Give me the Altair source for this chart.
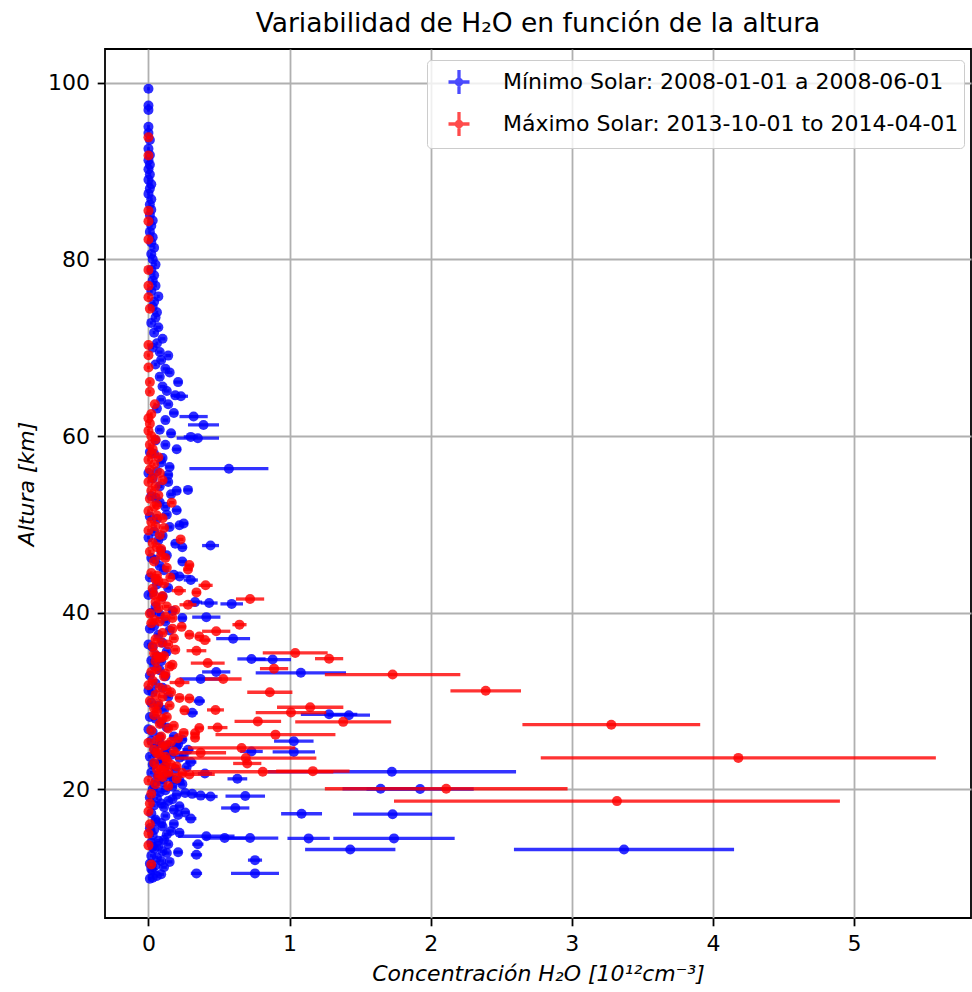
import altair as alt
import pandas as pd

# ---- Minimum solar activity series (2008-01-01 .. 2008-06-01) ----
blue_alt = [
    99.3, 97.4, 96.9, 95.0, 94.3, 93.5, 92.5, 91.8, 91.2, 90.7,
    90.2, 89.6, 89.0, 88.5, 88.0, 87.4, 86.8, 86.2, 85.6, 85.0,
    84.4, 83.8, 83.1, 82.5, 81.9, 81.3, 80.6, 80.0, 79.4, 78.8,
    78.2, 77.6, 77.0, 76.4, 75.8, 75.2, 74.6, 74.0, 73.4, 72.8,
    72.3, 71.7, 71.0, 70.5, 70.0, 69.5, 69.1, 68.6, 68.1, 67.6,
    67.2, 66.7, 66.1, 65.6, 65.1, 64.6, 64.5, 64.1, 63.6, 63.1,
    62.6, 62.2, 61.8, 61.25, 60.7, 60.3, 59.9, 59.75, 59.5, 59.0,
    58.5, 58.0, 57.5, 57.0, 56.5, 56.3, 56.0, 55.6, 55.2, 54.8,
    54.3, 53.9, 53.8, 53.4, 53.0, 52.5, 52.0, 51.6, 51.1, 50.6,
    50.1, 49.9, 49.7, 49.2, 48.7, 48.2, 47.8, 47.6, 47.4, 47.0,
    46.5, 46.0, 45.8, 45.3, 44.8, 44.3, 44.1, 43.7, 43.2, 42.8,
    42.3, 41.8, 41.2, 41.1, 41.0, 40.7, 40.2, 39.8, 39.5, 39.4,
    39.0, 38.5, 38.0, 37.5, 37.06, 36.6, 36.1, 35.6, 35.1, 34.77,
    34.7, 34.5, 34.0, 33.5, 33.3, 33.2, 32.8, 32.5, 32.0, 31.5,
    31.0, 30.5, 30.0, 29.5, 29.0, 28.67, 28.5, 28.4, 28.0, 27.5,
    27.0, 26.5, 26.0, 25.65, 25.46, 25.2, 25.0, 24.8, 24.5, 24.3,
    24.25, 24.1, 23.9, 23.6, 23.4, 23.1, 22.9, 22.6, 22.3, 22.0,
    21.8, 21.6, 21.4, 21.2, 21.0, 20.8, 20.5, 20.3, 20.08, 20.05,
    19.9, 19.6, 19.5, 19.4, 19.3, 19.25, 19.2, 19.0, 18.7, 18.4,
    18.1, 17.9, 17.7, 17.4, 17.25, 17.2, 17.0, 16.7, 16.4, 16.1,
    15.8, 15.4, 15.1, 14.9, 14.7, 14.5, 14.5, 14.46, 14.46, 14.2,
    13.8, 13.8, 13.5, 13.2, 13.2, 13.0, 12.9, 12.6, 12.3, 12.0,
    11.8, 11.4, 11.0, 10.5, 10.5, 10.4, 10.2, 10.0, 9.9,
    58.2, 55.8, 53.2, 50.9, 48.5, 46.2, 44.0, 42.0, 40.0, 38.2,
    36.4, 34.6, 32.9, 31.2, 29.8, 28.2, 26.8, 25.5, 24.6, 23.7,
    22.8, 21.9, 20.9, 20.0, 19.1, 18.2, 17.3, 16.6, 15.6, 14.8,
    14.0, 13.3, 12.5, 11.6, 10.8,
    25.9, 25.1, 24.4, 23.8, 23.2, 22.5, 21.7, 21.1, 20.6, 19.7,
    18.9, 18.0, 17.1, 16.2, 15.3, 14.3, 13.6, 12.8, 11.9, 11.2,
]
blue_conc = [
    0.00, 0.00, 0.00, 0.00, 0.00, 0.01, 0.00, 0.01, 0.00, 0.01,
    0.00, 0.01, 0.00, 0.02, 0.01, 0.00, 0.02, 0.01, 0.02, 0.01,
    0.03, 0.02, 0.01, 0.03, 0.02, 0.04, 0.02, 0.03, 0.05, 0.02,
    0.04, 0.03, 0.05, 0.02, 0.07, 0.04, 0.03, 0.06, 0.05, 0.02,
    0.07, 0.04, 0.10, 0.06, 0.03, 0.08, 0.14, 0.09, 0.05, 0.12,
    0.15, 0.08, 0.21, 0.10, 0.13, 0.19, 0.23, 0.09, 0.14, 0.06,
    0.18, 0.32, 0.12, 0.39, 0.08, 0.16, 0.30, 0.35, 0.05, 0.12,
    0.20, 0.04, 0.10, 0.09, 0.15, 0.57, 0.06, 0.14, 0.03, 0.14,
    0.08, 0.28, 0.20, 0.16, 0.05, 0.08, 0.12, 0.20, 0.13, 0.06,
    0.25, 0.22, 0.15, 0.04, 0.10, 0.07, 0.19, 0.44, 0.24, 0.09,
    0.13, 0.05, 0.24, 0.08, 0.11, 0.18, 0.22, 0.30, 0.06, 0.14,
    0.03, 0.10, 0.33, 0.43, 0.59, 0.05, 0.17, 0.08, 0.41, 0.24,
    0.12, 0.04, 0.15, 0.07, 0.60, 0.10, 0.03, 0.13, 0.06, 0.73,
    0.88, 0.09, 0.04, 0.08, 0.48, 1.08, 0.12, 0.37, 0.05, 0.10,
    0.03, 0.14, 0.36, 0.07, 0.11, 0.31, 1.28, 1.42, 0.05, 0.09,
    0.13, 0.03, 0.18, 0.24, 1.03, 0.08, 0.14, 0.20, 0.28, 0.73,
    1.03, 0.05, 0.16, 0.22, 0.10, 0.30, 0.04, 0.12, 0.19, 1.725,
    0.40, 0.07, 0.15, 0.63, 0.22, 0.10, 0.04, 0.17, 1.645, 1.925,
    0.12, 0.26, 0.31, 0.20, 0.37, 0.686, 0.44, 0.06, 0.14, 0.09,
    0.22, 0.615, 0.18, 0.26, 1.085, 1.73, 0.12, 0.30, 0.05, 0.18,
    0.10, 0.04, 0.22, 0.13, 0.41, 0.54, 0.72, 1.135, 1.74, 0.07,
    0.14, 0.35, 0.03, 1.43, 3.37, 0.10, 0.21, 0.34, 0.06, 0.755,
    0.15, 0.05, 0.02, 0.755, 0.34, 0.09, 0.06, 0.03, 0.01,
    0.01, 0.00, 0.02, 0.01, 0.00, 0.02, 0.01, 0.00, 0.02, 0.01,
    0.00, 0.02, 0.01, 0.00, 0.02, 0.01, 0.00, 0.02, 0.04, 0.01,
    0.03, 0.02, 0.05, 0.03, 0.01, 0.04, 0.02, 0.05, 0.01, 0.03,
    0.02, 0.04, 0.02, 0.01, 0.03,
    0.08, 0.21, 0.12, 0.25, 0.09, 0.27, 0.13, 0.18, 0.24, 0.08,
    0.17, 0.11, 0.21, 0.09, 0.16, 0.11, 0.07, 0.13, 0.09, 0.11,
]
blue_err = [
    0.01, 0.01, 0.01, 0.01, 0.01, 0.01, 0.01, 0.01, 0.01, 0.01,
    0.01, 0.01, 0.01, 0.01, 0.01, 0.01, 0.01, 0.01, 0.01, 0.01,
    0.01, 0.01, 0.01, 0.01, 0.01, 0.01, 0.01, 0.01, 0.01, 0.01,
    0.01, 0.01, 0.01, 0.01, 0.01, 0.01, 0.01, 0.01, 0.01, 0.01,
    0.02, 0.01, 0.02, 0.01, 0.01, 0.02, 0.02, 0.02, 0.01, 0.02,
    0.02, 0.02, 0.03, 0.02, 0.02, 0.03, 0.05, 0.02, 0.02, 0.01,
    0.03, 0.10, 0.02, 0.11, 0.02, 0.03, 0.05, 0.15, 0.01, 0.02,
    0.03, 0.01, 0.02, 0.02, 0.03, 0.28, 0.01, 0.03, 0.01, 0.02,
    0.02, 0.03, 0.03, 0.02, 0.01, 0.02, 0.02, 0.03, 0.02, 0.01,
    0.03, 0.03, 0.02, 0.01, 0.02, 0.02, 0.03, 0.06, 0.03, 0.02,
    0.02, 0.01, 0.03, 0.02, 0.02, 0.03, 0.08, 0.05, 0.01, 0.02,
    0.01, 0.02, 0.05, 0.06, 0.08, 0.01, 0.03, 0.02, 0.10, 0.03,
    0.02, 0.01, 0.03, 0.02, 0.12, 0.02, 0.01, 0.02, 0.01, 0.10,
    0.13, 0.02, 0.01, 0.02, 0.10, 0.32, 0.02, 0.15, 0.01, 0.02,
    0.01, 0.02, 0.04, 0.02, 0.02, 0.04, 0.20, 0.15, 0.01, 0.02,
    0.02, 0.01, 0.03, 0.03, 0.14, 0.02, 0.02, 0.03, 0.04, 0.08,
    0.15, 0.01, 0.03, 0.03, 0.02, 0.04, 0.01, 0.02, 0.03, 0.88,
    0.05, 0.02, 0.02, 0.07, 0.03, 0.02, 0.01, 0.03, 0.27, 0.38,
    0.02, 0.03, 0.04, 0.03, 0.05, 0.14, 0.05, 0.01, 0.02, 0.02,
    0.03, 0.10, 0.03, 0.03, 0.145, 0.28, 0.02, 0.04, 0.01, 0.03,
    0.02, 0.01, 0.03, 0.02, 0.20, 0.15, 0.20, 0.15, 0.43, 0.02,
    0.02, 0.04, 0.01, 0.32, 0.78, 0.02, 0.03, 0.04, 0.01, 0.05,
    0.02, 0.01, 0.01, 0.17, 0.04, 0.02, 0.01, 0.01, 0.01,
    0.01, 0.01, 0.01, 0.01, 0.01, 0.01, 0.01, 0.01, 0.01, 0.01,
    0.01, 0.01, 0.01, 0.01, 0.01, 0.01, 0.01, 0.01, 0.01, 0.01,
    0.01, 0.01, 0.01, 0.01, 0.01, 0.01, 0.01, 0.01, 0.01, 0.01,
    0.01, 0.01, 0.01, 0.01, 0.01,
    0.02, 0.02, 0.02, 0.02, 0.02, 0.02, 0.02, 0.02, 0.02, 0.02,
    0.02, 0.02, 0.02, 0.02, 0.02, 0.02, 0.02, 0.02, 0.02, 0.02,
]

# ---- Maximum solar activity series (2013-10-01 .. 2014-04-01) ----
red_alt = [
    93.8, 91.75, 85.5, 84.3, 82.25, 78.8, 77.0, 75.7, 74.4, 70.3,
    69.15, 67.75, 66.1, 65.0, 63.6, 62.5, 62.0, 61.4, 60.6, 60.0,
    59.0, 58.5, 57.96, 57.3, 56.8, 56.2, 55.8, 55.3, 54.8, 54.3,
    53.8, 53.3, 52.9, 52.46, 52.0, 51.5, 51.0, 50.7, 50.3, 49.8,
    49.3, 48.8, 48.3, 47.9, 47.4, 46.9, 46.5, 46.2, 45.8, 45.4,
    44.9, 44.5, 44.0, 43.6, 43.1, 42.7, 42.5, 42.3, 41.9, 41.55,
    41.2, 40.9, 40.7, 40.3, 39.9, 39.4, 39.0, 38.65, 38.4, 38.2,
    37.9, 37.5, 37.3, 36.9, 36.6, 36.2, 35.8, 35.7, 35.45, 35.1,
    34.8, 34.5, 34.3, 34.1, 33.9, 33.67, 33.3, 33.0, 32.5, 32.1,
    31.8, 31.5, 31.16, 31.0, 30.7, 30.36, 30.3, 30.0, 29.7, 29.3,
    29.0, 28.95, 28.7, 28.4, 28.0, 27.7, 27.65, 27.33, 27.0, 26.95,
    26.7, 26.4, 26.35, 26.2, 25.84, 25.6, 25.27, 25.0, 24.7, 24.5,
    24.15, 23.9, 23.57, 23.55, 23.3, 23.0, 22.94, 22.6, 22.3, 22.07,
    22.0, 21.9, 21.85, 21.7, 21.4, 21.0, 20.6, 20.08, 19.5, 18.68,
    18.4, 17.5, 16.05, 15.0, 13.67, 11.5,
    44.2, 43.3, 42.0, 40.5, 39.6, 38.8, 37.7, 37.0, 36.4, 35.4,
    34.9, 33.6, 32.8, 32.3, 31.3, 30.5, 29.5, 28.8, 28.2, 27.4,
    26.9, 26.0, 25.4, 24.9, 24.3, 23.7, 22.8, 22.2, 21.2, 20.4,
    59.6, 57.6, 55.0, 52.2, 49.6, 47.2, 45.1, 43.8, 41.5, 39.2,
    37.1, 35.0, 33.1, 31.0, 29.2, 27.2, 25.8, 24.1, 22.5, 21.5,
]
red_conc = [
    0.00, 0.00, 0.00, 0.00, 0.00, 0.00, 0.00, 0.00, 0.01, 0.00,
    0.00, 0.00, 0.01, 0.01, 0.045, 0.02, 0.00, 0.01, 0.00, 0.02,
    0.01, 0.03, 0.02, 0.00, 0.04, 0.01, 0.08, 0.03, 0.00, 0.05,
    0.02, 0.07, 0.01, 0.165, 0.04, 0.00, 0.06, 0.10, 0.02, 0.05,
    0.00, 0.08, 0.228, 0.03, 0.06, 0.01, 0.09, 0.12, 0.04, 0.29,
    0.28, 0.02, 0.155, 0.07, 0.405, 0.03, 0.215, 0.34, 0.10, 0.72,
    0.05, 0.28, 0.13, 0.19, 0.01, 0.17, 0.08, 0.645, 0.235, 0.17,
    0.48, 0.29, 0.36, 0.40, 0.09, 0.03, 0.19, 0.34, 1.04, 0.11,
    1.28, 0.05, 0.42, 0.17, 0.15, 0.89, 0.02, 1.73, 0.53, 0.22,
    0.00, 0.08, 2.39, 0.86, 0.05, 0.22, 0.29, 0.01, 0.07, 1.146,
    0.475, 0.255, 1.01, 0.04, 0.10, 0.775, 1.38, 3.28, 0.49, 0.36,
    0.02, 0.25, 0.33, 0.90, 0.33, 0.06, 0.00, 0.12, 0.66, 0.04,
    0.37, 0.08, 4.18, 0.69, 0.13, 0.04, 0.70, 0.20, 0.06, 1.165,
    0.81, 0.14, 0.24, 0.29, 0.10, 0.00, 0.05, 2.11, 0.02, 3.32,
    0.01, 0.00, 0.01, 0.00, 0.00, 0.02,
    0.06, 0.11, 0.04, 0.07, 0.12, 0.02, 0.10, 0.05, 0.14, 0.04,
    0.09, 0.06, 0.11, 0.03, 0.13, 0.10, 0.15, 0.06, 0.13, 0.08,
    0.14, 0.09, 0.16, 0.10, 0.18, 0.12, 0.16, 0.09, 0.20, 0.14,
    0.05, 0.07, 0.10, 0.06, 0.11, 0.09, 0.13, 0.05, 0.09, 0.04,
    0.18, 0.07, 0.12, 0.16, 0.04, 0.18, 0.21, 0.06, 0.11, 0.07,
]
red_err = [
    0.01, 0.01, 0.01, 0.01, 0.01, 0.01, 0.01, 0.01, 0.01, 0.01,
    0.01, 0.01, 0.01, 0.01, 0.01, 0.01, 0.01, 0.01, 0.01, 0.01,
    0.01, 0.01, 0.01, 0.01, 0.01, 0.01, 0.01, 0.01, 0.01, 0.01,
    0.01, 0.01, 0.01, 0.02, 0.01, 0.01, 0.01, 0.02, 0.01, 0.01,
    0.01, 0.01, 0.02, 0.01, 0.01, 0.01, 0.02, 0.02, 0.01, 0.03,
    0.03, 0.01, 0.02, 0.01, 0.05, 0.01, 0.05, 0.03, 0.02, 0.10,
    0.01, 0.06, 0.02, 0.02, 0.01, 0.02, 0.01, 0.05, 0.03, 0.02,
    0.10, 0.03, 0.03, 0.04, 0.01, 0.01, 0.02, 0.07, 0.23, 0.02,
    0.10, 0.01, 0.12, 0.02, 0.02, 0.10, 0.01, 0.48, 0.13, 0.07,
    0.01, 0.01, 0.25, 0.16, 0.01, 0.03, 0.03, 0.01, 0.01, 0.235,
    0.06, 0.03, 0.25, 0.01, 0.02, 0.165, 0.34, 0.63, 0.07, 0.03,
    0.01, 0.03, 0.03, 0.425, 0.03, 0.01, 0.01, 0.02, 0.38, 0.01,
    0.18, 0.01, 1.40, 0.50, 0.02, 0.01, 0.10, 0.02, 0.01, 0.26,
    0.50, 0.02, 0.03, 0.18, 0.02, 0.01, 0.01, 0.86, 0.01, 1.58,
    0.01, 0.01, 0.01, 0.01, 0.01, 0.01,
    0.02, 0.02, 0.02, 0.02, 0.02, 0.02, 0.02, 0.02, 0.02, 0.02,
    0.02, 0.02, 0.02, 0.02, 0.02, 0.02, 0.02, 0.02, 0.02, 0.02,
    0.02, 0.02, 0.02, 0.02, 0.02, 0.02, 0.02, 0.02, 0.02, 0.02,
    0.02, 0.02, 0.02, 0.02, 0.02, 0.02, 0.02, 0.02, 0.02, 0.02,
    0.02, 0.02, 0.02, 0.02, 0.02, 0.02, 0.02, 0.02, 0.02, 0.02,
]

series_names = [
    "Mínimo Solar: 2008-01-01 a 2008-06-01",
    "Máximo Solar: 2013-10-01 to 2014-04-01",
]
series_colors = ["#0000ff", "#ff0000"]
x_ticks = [0, 1, 2, 3, 4, 5]
y_ticks = [20, 40, 60, 80, 100]

rows = []
for name, alts, concs, errs in [
    (series_names[0], blue_alt, blue_conc, blue_err),
    (series_names[1], red_alt, red_conc, red_err),
]:
    for a, c, e in zip(alts, concs, errs):
        rows.append({"serie": name, "altura": a, "conc": c, "lo": c - e, "hi": c + e})
df = pd.DataFrame(rows)

FONT = "DejaVu Sans"
x_scale = alt.Scale(domain=[-0.308, 5.829], nice=False, zero=False)
y_scale = alt.Scale(domain=[5.45, 103.8], nice=False, zero=False)
x_axis = alt.Axis(values=x_ticks, format="d", title="Concentración H₂O [10¹²cm⁻³]", titlePadding=9)
y_axis = alt.Axis(values=y_ticks, format="d", title="Altura [km]", titlePadding=9)

# errorbar-style legend glyph: horizontal + vertical stroke with a dot in the middle
cross_path = "M-0.7,0H0.7M0,-0.8V0.8M0.18,0A0.18,0.18,0,1,1,-0.18,0A0.18,0.18,0,1,1,0.18,0Z"
legend = alt.Legend(
    title=None, orient="none", legendX=322, legendY=11,
    symbolType=cross_path, symbolSize=900, symbolStrokeWidth=3.3, symbolOpacity=0.7,
    symbolOffset=10, labelOffset=27, labelFont=FONT, labelFontSize=22, labelColor="black",
    labelLimit=700, padding=5, rowPadding=4, fillColor="rgba(255,255,255,0.8)",
    strokeColor="#cccccc", cornerRadius=4,
)
color_scale = alt.Scale(domain=series_names, range=series_colors)


def bars(name):
    return alt.Chart(df).transform_filter(alt.datum.serie == name).mark_rule(
        strokeWidth=3.3, opacity=0.8
    ).encode(
        x=alt.X("lo:Q", scale=x_scale, axis=x_axis),
        x2="hi:Q",
        y=alt.Y("altura:Q", scale=y_scale, axis=y_axis),
        color=alt.Color("serie:N", scale=color_scale, legend=legend),
    )


def dots(name):
    return alt.Chart(df).transform_filter(alt.datum.serie == name).mark_circle(
        size=100, opacity=0.82
    ).encode(
        x=alt.X("conc:Q", scale=x_scale, axis=x_axis),
        y=alt.Y("altura:Q", scale=y_scale, axis=y_axis),
        color=alt.Color("serie:N", scale=color_scale, legend=None),
    )


chart = alt.layer(
    bars(series_names[0]), dots(series_names[0]),
    bars(series_names[1]), dots(series_names[1]),
).properties(
    width=866, height=869,
    padding={"left": 105, "top": 49, "right": 1, "bottom": 74},
    autosize=alt.AutoSizeParams(type="none"),
    title=alt.Title(
        "Variabilidad de H₂O en función de la altura",
        font=FONT, fontSize=26.5, fontWeight="normal", color="black",
        anchor="middle", offset=12,
    ),
).configure_view(
    stroke="black", strokeWidth=1.8
).configure_axis(
    grid=True, gridColor="#b0b0b0", gridWidth=1.8, domain=False,
    tickColor="black", tickWidth=1.8, tickSize=7.8, labelPadding=7.8,
    labelFont=FONT, labelFontSize=22, labelColor="black",
    titleFont=FONT, titleFontSize=22, titleFontWeight="normal",
    titleFontStyle="italic", titleColor="black",
)

chart.save("out.html", embed_options={"renderer": "svg", "actions": False})
